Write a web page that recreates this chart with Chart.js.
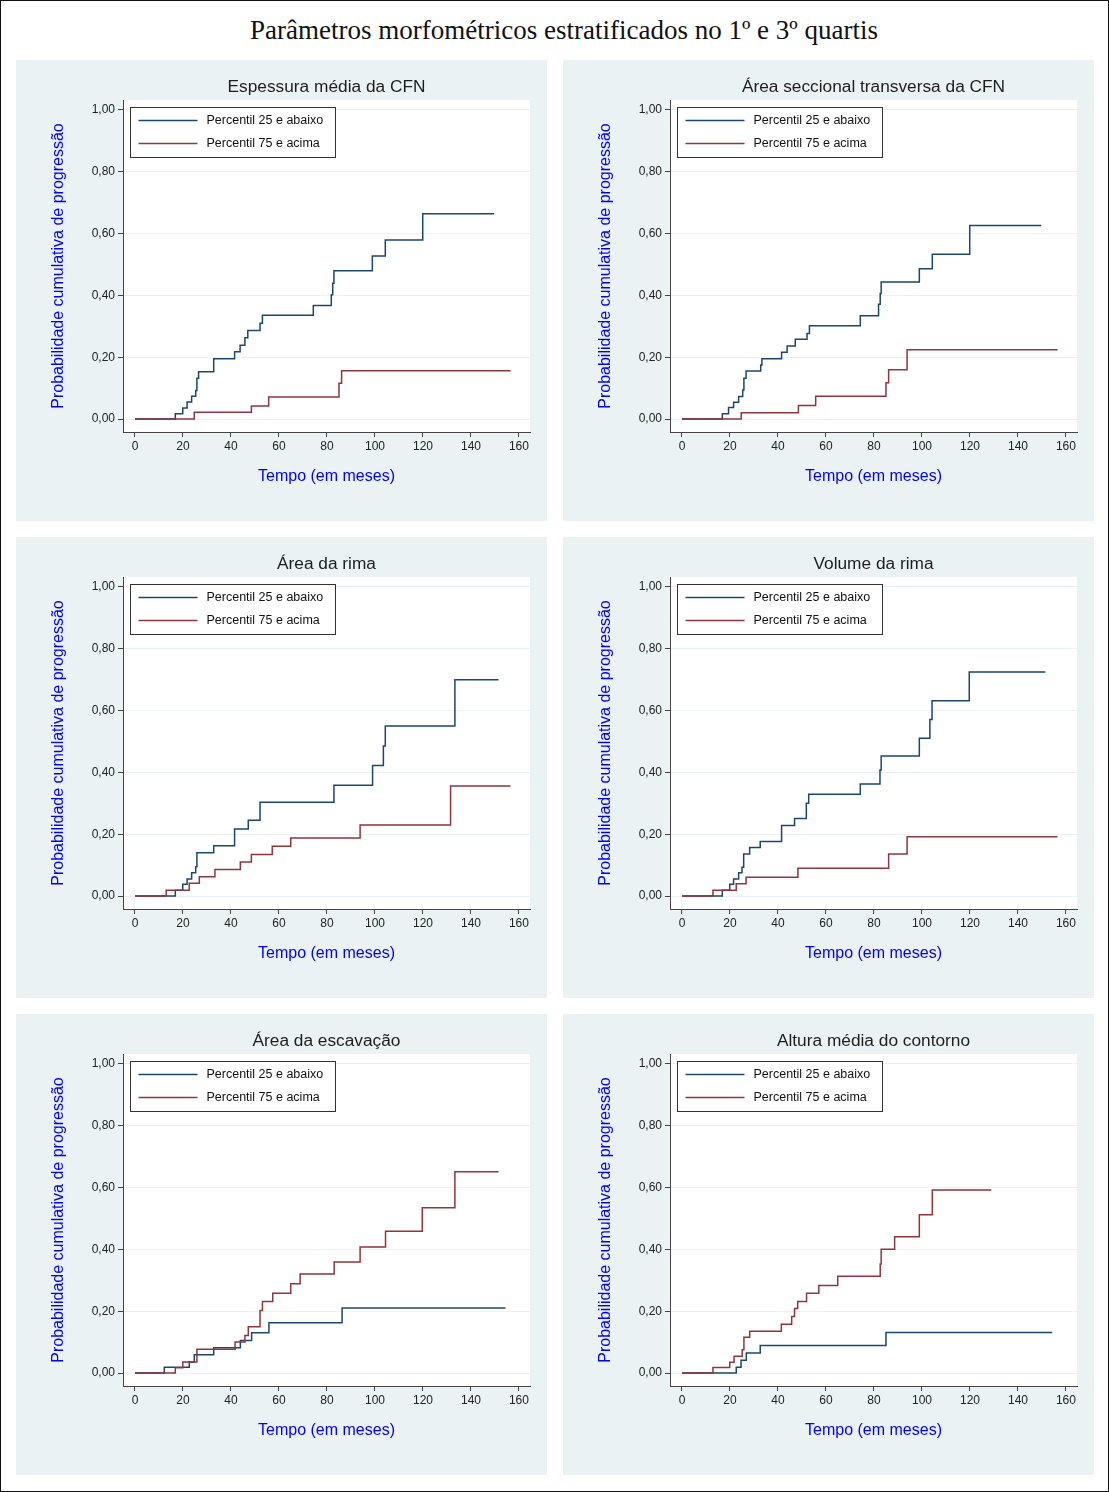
<!DOCTYPE html>
<html><head><meta charset="utf-8">
<script src="https://cdn.jsdelivr.net/npm/chart.js@4.4.0/dist/chart.umd.min.js"></script>
<style>
html,body{margin:0;padding:0;background:#fff;}
#page{position:relative;width:1109px;height:1492px;overflow:hidden;background:#fff;}
#frame{position:absolute;left:0;top:0;width:1109px;height:1492px;border:1px solid #111;box-sizing:border-box;pointer-events:none;z-index:10;}
#mainTitle{position:absolute;left:0;top:15px;width:1128px;text-align:center;font-family:"Liberation Serif","DejaVu Serif",serif;font-size:27px;color:#111;white-space:nowrap;}
.panel{position:absolute;width:531px;height:461px;background:rgb(234,242,243);}
.panel canvas{position:absolute;left:0;top:0;}
.ptitle{position:absolute;left:107px;width:407px;top:16px;text-align:center;font-family:"Liberation Sans",Arial,sans-serif;font-size:17.3px;color:#1e1e1e;white-space:nowrap;}
</style></head>
<body>
<div id="page">
  <div id="mainTitle">Parâmetros morfométricos estratificados no 1º e 3º quartis</div>
  <div class="panel" style="left:16px;top:60px"><canvas id="c1" width="531" height="461"></canvas><div class="ptitle" id="t1"></div></div>
  <div class="panel" style="left:563px;top:60px"><canvas id="c2" width="531" height="461"></canvas><div class="ptitle" id="t2"></div></div>
  <div class="panel" style="left:16px;top:537px"><canvas id="c3" width="531" height="461"></canvas><div class="ptitle" id="t3"></div></div>
  <div class="panel" style="left:563px;top:537px"><canvas id="c4" width="531" height="461"></canvas><div class="ptitle" id="t4"></div></div>
  <div class="panel" style="left:16px;top:1014px"><canvas id="c5" width="531" height="461"></canvas><div class="ptitle" id="t5"></div></div>
  <div class="panel" style="left:563px;top:1014px"><canvas id="c6" width="531" height="461"></canvas><div class="ptitle" id="t6"></div></div>
  <div id="frame"></div>
</div>
<script>
// ---- Data ----
const panelTitles = ["Espessura média da CFN", "Área seccional transversa da CFN", "Área da rima", "Volume da rima", "Área da escavação", "Altura média do contorno"];
const seriesLabels = ["Percentil 25 e abaixo", "Percentil 75 e acima"];
const xTicks = [0, 20, 40, 60, 80, 100, 120, 140, 160];
const yTicks = [0, 0.2, 0.4, 0.6, 0.8, 1.0];
const yTickLabels = ["0,00", "0,20", "0,40", "0,60", "0,80", "1,00"];
const xAxisTitle = "Tempo (em meses)";
const yAxisTitle = "Probabilidade cumulativa de progressão";

// Panel 1: Espessura média da CFN
const p1TempoP25 = [0, 16.8, 19.9, 21.7, 23.6, 25.3, 25.8, 26.5, 32.8, 41.5, 43.8, 45.8, 47, 52.1, 53.1, 74.3, 81.8, 82.4, 82.9, 98.9, 104.3, 119.9, 149.7];
const p1ProbP25  = [0, 0.017, 0.036, 0.055, 0.074, 0.092, 0.132, 0.153, 0.195, 0.218, 0.239, 0.263, 0.286, 0.310, 0.336, 0.367, 0.402, 0.439, 0.480, 0.527, 0.579, 0.664, 0.664];
const p1TempoP75 = [0, 24.7, 48.5, 55.7, 85, 86.1, 156.5];
const p1ProbP75  = [0, 0.022, 0.042, 0.071, 0.116, 0.156, 0.156];

// Panel 2: Área seccional transversa da CFN
const p2TempoP25 = [0, 16.8, 19.4, 21.5, 23.6, 25.3, 25.8, 26.7, 32.8, 33.3, 41.5, 43.8, 47.2, 52.1, 53.1, 74.3, 81.9, 82.6, 83, 98.9, 104.3, 119.9, 149.7];
const p2ProbP25  = [0, 0.017, 0.037, 0.054, 0.073, 0.094, 0.132, 0.155, 0.175, 0.195, 0.216, 0.236, 0.258, 0.277, 0.302, 0.334, 0.371, 0.406, 0.443, 0.486, 0.533, 0.626, 0.626];
const p2TempoP75 = [0, 24.7, 48.5, 55.7, 85, 86.1, 93.8, 156.5];
const p2ProbP75  = [0, 0.020, 0.044, 0.074, 0.117, 0.159, 0.224, 0.224];

// Panel 3: Área da rima
const p3TempoP25 = [0, 16.8, 19.9, 21.7, 23.6, 25.3, 25.8, 32.8, 41.5, 47.2, 52.1, 82.9, 99, 103.5, 104.3, 133.3, 151.5];
const p3ProbP25  = [0, 0.019, 0.038, 0.055, 0.075, 0.095, 0.140, 0.163, 0.217, 0.245, 0.303, 0.358, 0.422, 0.485, 0.550, 0.700, 0.700];
const p3TempoP75 = [0, 13, 22.6, 26.8, 33.3, 43.9, 48.5, 57.2, 64.9, 93.8, 131.5, 156.5];
const p3ProbP75  = [0, 0.019, 0.041, 0.062, 0.086, 0.110, 0.134, 0.161, 0.188, 0.230, 0.356, 0.356];

// Panel 4: Volume da rima
const p4TempoP25 = [0, 16.8, 19.9, 21.5, 23.6, 25, 25.7, 28.2, 32.6, 41.5, 46.9, 51.8, 52.8, 74.3, 82.5, 83, 98.9, 103.3, 104.2, 119.7, 151.4];
const p4ProbP25  = [0, 0.019, 0.038, 0.055, 0.075, 0.093, 0.136, 0.157, 0.176, 0.228, 0.251, 0.300, 0.329, 0.362, 0.408, 0.453, 0.510, 0.571, 0.632, 0.725, 0.725];
const p4TempoP75 = [0, 12.9, 22.6, 26.7, 48.3, 86.1, 93.8, 156.5];
const p4ProbP75  = [0, 0.019, 0.040, 0.061, 0.090, 0.136, 0.192, 0.192];

// Panel 5: Área da escavação
const p5TempoP25 = [0, 12.2, 22.6, 24.7, 32.8, 43.9, 48.6, 55.8, 86.3, 154.4];
const p5ProbP25  = [0, 0.019, 0.036, 0.059, 0.082, 0.105, 0.130, 0.163, 0.210, 0.210];
const p5TempoP75 = [0, 16.8, 19.9, 25.8, 41.7, 45.8, 47.2, 52.1, 53.1, 57.4, 64.9, 68.8, 83, 93.8, 104.4, 119.7, 133.3, 151.5];
const p5ProbP75  = [0, 0.017, 0.036, 0.077, 0.100, 0.121, 0.150, 0.202, 0.231, 0.258, 0.289, 0.320, 0.359, 0.408, 0.459, 0.535, 0.651, 0.651];

// Panel 6: Altura média do contorno
const p6TempoP25 = [0, 22.6, 24.6, 26.8, 32.6, 85, 154.3];
const p6ProbP25  = [0, 0.019, 0.041, 0.065, 0.089, 0.131, 0.131];
const p6TempoP75 = [0, 12.9, 19.9, 21.7, 25.1, 25.8, 28.2, 41.4, 45.7, 46.9, 48.2, 51.9, 57, 64.9, 82.6, 83, 88.6, 98.9, 104.3, 128.9];
const p6ProbP75  = [0, 0.018, 0.035, 0.054, 0.075, 0.116, 0.135, 0.158, 0.183, 0.209, 0.231, 0.258, 0.283, 0.313, 0.353, 0.400, 0.441, 0.512, 0.592, 0.592];

// ---- Styling ----
const BLUE = "#1a476f";
const RED = "#90353b";
const FONT = "'Liberation Sans', Arial, sans-serif";
const AXIS_COLOR = "#444";

const bgPlugin = {
  id: "plotBg",
  beforeDraw(chart) {
    const a = chart.chartArea, ctx = chart.ctx;
    ctx.save();
    ctx.fillStyle = "#fff";
    ctx.fillRect(a.left, a.top, a.right - a.left, a.bottom - a.top);
    ctx.restore();
  }
};

const legendBoxPlugin = {
  id: "legendBox",
  afterDraw(chart) {
    const a = chart.chartArea, ctx = chart.ctx;
    const bx = Math.round(a.left) + 7.5, by = Math.round(a.top) + 7.5;
    const bw = 205, bh = 50;
    ctx.save();
    ctx.fillStyle = "#fff";
    ctx.fillRect(bx, by, bw, bh);
    ctx.strokeStyle = "#333";
    ctx.lineWidth = 1;
    ctx.strokeRect(bx, by, bw, bh);
    const rows = [13, 36];
    chart.data.datasets.forEach((ds, i) => {
      const y = by + rows[i];
      ctx.strokeStyle = ds.borderColor;
      ctx.lineWidth = 1.5;
      ctx.beginPath();
      ctx.moveTo(bx + 8, y);
      ctx.lineTo(bx + 67, y);
      ctx.stroke();
      ctx.fillStyle = "#111";
      ctx.font = "12.5px " + FONT;
      ctx.textBaseline = "middle";
      ctx.textAlign = "left";
      ctx.fillText(ds.label, bx + 76, y + 0.5);
    });
    ctx.restore();
  }
};

function toPoints(t, v) { return t.map((x, i) => ({ x: x, y: v[i] })); }

function makeChart(idx, title, tA, vA, tB, vB) {
  document.getElementById("t" + idx).textContent = title;
  new Chart(document.getElementById("c" + idx), {
    type: "line",
    data: {
      datasets: [
        { label: seriesLabels[0], data: toPoints(tA, vA), borderColor: BLUE, borderWidth: 1.5, pointRadius: 0, stepped: true, fill: false, order: 1 },
        { label: seriesLabels[1], data: toPoints(tB, vB), borderColor: RED, borderWidth: 1.5, pointRadius: 0, stepped: true, fill: false, order: 0 }
      ]
    },
    options: {
      responsive: false,
      animation: false,
      devicePixelRatio: 1,
      events: [],
      layout: { padding: { left: 0, top: 40, right: 17, bottom: 19 } },
      plugins: { legend: { display: false }, tooltip: { enabled: false }, title: { display: false } },
      scales: {
        x: {
          type: "linear", min: -5, max: 164.6,
          afterBuildTicks: s => { s.ticks = xTicks.map(v => ({ value: v })); },
          afterFit: s => { s.height = 70; },
          grid: { drawOnChartArea: false, drawTicks: true, tickLength: 5, tickColor: AXIS_COLOR, tickWidth: 1 },
          border: { display: true, color: AXIS_COLOR, width: 1 },
          ticks: { font: { family: FONT, size: 12 }, color: "#222", padding: 2, maxRotation: 0, autoSkip: false,
                   callback: (v, i) => String(xTicks[i]) },
          title: { display: true, text: xAxisTitle, color: "#0000ff", font: { family: FONT, size: 16 }, padding: { top: 0, bottom: 16 } }
        },
        y: {
          type: "linear", min: -0.042, max: 1.032,
          afterBuildTicks: s => { s.ticks = yTicks.map(v => ({ value: v })); },
          afterFit: s => { s.width = 107; },
          grid: { color: "rgb(234,242,243)", lineWidth: 1, drawTicks: true, tickLength: 5, tickColor: AXIS_COLOR, tickWidth: 1 },
          border: { display: true, color: AXIS_COLOR, width: 1 },
          ticks: { font: { family: FONT, size: 12 }, color: "#222", padding: 3, autoSkip: false,
                   callback: (v, i) => yTickLabels[i] },
          title: { display: true, text: yAxisTitle, color: "#0000ff", font: { family: FONT, size: 16 }, padding: { top: 33, bottom: 0 } }
        }
      }
    },
    plugins: [bgPlugin, legendBoxPlugin]
  });
}

makeChart(1, panelTitles[0], p1TempoP25, p1ProbP25, p1TempoP75, p1ProbP75);
makeChart(2, panelTitles[1], p2TempoP25, p2ProbP25, p2TempoP75, p2ProbP75);
makeChart(3, panelTitles[2], p3TempoP25, p3ProbP25, p3TempoP75, p3ProbP75);
makeChart(4, panelTitles[3], p4TempoP25, p4ProbP25, p4TempoP75, p4ProbP75);
makeChart(5, panelTitles[4], p5TempoP25, p5ProbP25, p5TempoP75, p5ProbP75);
makeChart(6, panelTitles[5], p6TempoP25, p6ProbP25, p6TempoP75, p6ProbP75);
</script>
</body></html>
